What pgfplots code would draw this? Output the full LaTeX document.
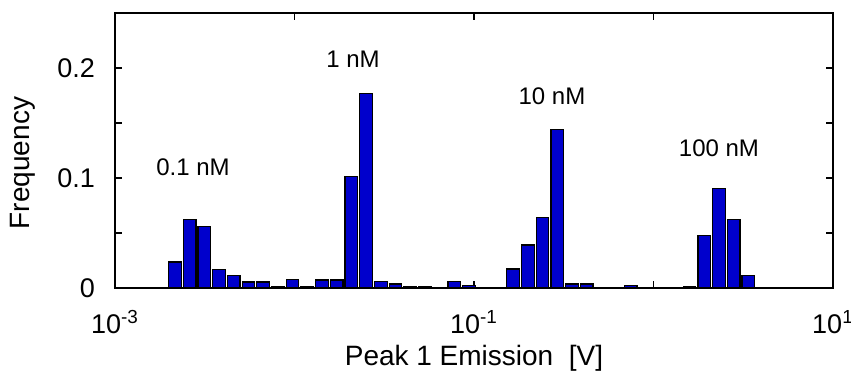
\documentclass[border=0pt]{standalone}
\usepackage{fontspec}
\setmainfont{Liberation Sans}
\usepackage{pgfplots}
\pgfplotsset{compat=1.18}
\definecolor{barblue}{RGB}{0,0,204}
\pgfplotstableread{
x y
0.002159 0.0236
0.002607 0.062
0.003148 0.056
0.003801 0.017
0.004590 0.011
0.005543 0.0055
0.006693 0.0055
0.008082 0.0015
0.009760 0.0076
0.011785 0.0015
0.014230 0.0073
0.017186 0.0073
0.020746 0.101
0.025054 0.177
0.030262 0.0058
0.036537 0.0036
0.044119 0.0015
0.053283 0.0015
0.077689 0.0058
0.093809 0.002
0.16517 0.0172
0.19944 0.039
0.24083 0.064
0.29081 0.144
0.35115 0.0036
0.42404 0.0036
0.74656 0.002
1.5874 0.0015
1.9168 0.048
2.3146 0.0906
2.7949 0.062
3.3749 0.011
}\histdata
\begin{document}
\begin{tikzpicture}
\begin{axis}[name=ax, at={(0,0)}, anchor=south west,
  scale only axis, width=359pt, height=137.5pt,
  xmode=log, xmin=1e-3, xmax=10, ymin=0, ymax=0.25,
  xtick={0.001,0.01,0.1,1,10},
  xticklabels={10\textsuperscript{-3},,10\textsuperscript{-1},,10\textsuperscript{1}},
  xminorticks=false,
  ytick={0,0.05,0.1,0.15,0.2}, yticklabels={0,,0.1,,0.2},
  tick align=inside, major tick length=3.5pt,
  tick style={black, line width=0.6pt},
  axis line style={black, line width=0.8pt},
  /pgf/number format/assume math mode=true,
  tick label style={font=\fontsize{13.5}{16}\selectfont},
  label style={font=\fontsize{14}{17}\selectfont},
  yticklabel style={xshift=-6.5pt},
  xticklabel style={yshift=-7.5pt},
  xlabel={Peak 1 Emission\ \ [V]}, ylabel={Frequency},
  xlabel style={at={(rel axis cs:0.5,-0.255)}, anchor=center},
  ylabel style={at={(rel axis cs:-0.1281,0.4545)}, anchor=center},
]
\addplot[ybar, bar width=6.3pt, fill=barblue, draw=black, line width=0.6pt] table[x=x, y=y] {\histdata};
\node[font=\fontsize{12}{14}\selectfont] at (axis cs:0.00272,0.110) {0.1 nM};
\node[font=\fontsize{12}{14}\selectfont] at (axis cs:0.02118,0.208) {1 nM};
\node[font=\fontsize{12}{14}\selectfont] at (axis cs:0.2719,0.1745) {10 nM};
\node[font=\fontsize{12}{14}\selectfont] at (axis cs:2.317,0.1273) {100 nM};
\end{axis}
\pgfresetboundingbox
\path[use as bounding box] ([xshift=-57.5pt,yshift=-45.5pt]ax.south west) rectangle ([xshift=9pt,yshift=6.5pt]ax.north east);
\end{tikzpicture}
\end{document}
